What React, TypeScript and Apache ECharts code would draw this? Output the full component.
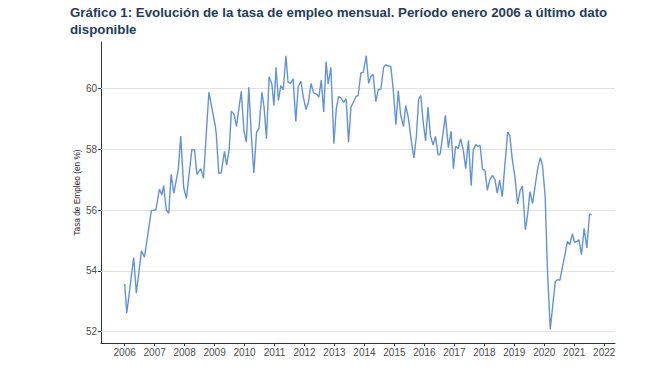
import React, { useEffect, useRef } from "react";
import * as echarts from "echarts";

const fechas: number[] = [
  2006.0, 2006.07, 2006.3, 2006.39, 2006.56, 2006.66, 2006.89, 2007.04, 2007.16, 2007.24,
  2007.3, 2007.39, 2007.47, 2007.55, 2007.64, 2007.79, 2007.87, 2007.97, 2008.06, 2008.24,
  2008.33, 2008.41, 2008.54, 2008.63, 2008.81, 2009.03, 2009.06, 2009.14, 2009.22, 2009.33,
  2009.4, 2009.49, 2009.56, 2009.65, 2009.73, 2009.89, 2009.98, 2010.06, 2010.14, 2010.23,
  2010.31, 2010.4, 2010.48, 2010.58, 2010.65, 2010.73, 2010.82, 2010.91, 2010.98, 2011.05,
  2011.13, 2011.21, 2011.29, 2011.38, 2011.45, 2011.53, 2011.62, 2011.71, 2011.79, 2011.88,
  2011.96, 2012.05, 2012.13, 2012.22, 2012.3, 2012.4, 2012.48, 2012.56, 2012.64, 2012.72,
  2012.79, 2012.88, 2012.98, 2013.06, 2013.14, 2013.22, 2013.31, 2013.39, 2013.47, 2013.55,
  2013.63, 2013.72, 2013.79, 2013.88, 2013.96, 2014.06, 2014.14, 2014.22, 2014.29, 2014.38,
  2014.46, 2014.55, 2014.64, 2014.71, 2014.8, 2014.88, 2014.96, 2015.05, 2015.13, 2015.21,
  2015.3, 2015.38, 2015.47, 2015.56, 2015.65, 2015.73, 2015.81, 2015.88, 2015.96, 2016.04,
  2016.12, 2016.2, 2016.29, 2016.37, 2016.46, 2016.53, 2016.7, 2016.8, 2016.89, 2016.97,
  2017.04, 2017.13, 2017.21, 2017.3, 2017.38, 2017.47, 2017.56, 2017.63, 2017.71, 2017.79,
  2017.86, 2017.94, 2018.02, 2018.1, 2018.18, 2018.27, 2018.36, 2018.43, 2018.51, 2018.6,
  2018.69, 2018.78, 2018.85, 2018.93, 2019.02, 2019.11, 2019.2, 2019.27, 2019.37, 2019.45,
  2019.52, 2019.61, 2019.69, 2019.78, 2019.87, 2019.94, 2020.03, 2020.11, 2020.2, 2020.28,
  2020.37, 2020.45, 2020.52, 2020.61, 2020.7, 2020.77, 2020.85, 2020.94, 2021.01, 2021.1,
  2021.16, 2021.24, 2021.33, 2021.42, 2021.51, 2021.58,
];

const tasaEmpleo: number[] = [
  53.57, 52.62, 54.44, 53.27, 54.66, 54.45, 55.98, 56.0, 56.69, 56.49,
  56.8, 56.0, 55.89, 57.17, 56.55, 57.34, 58.43, 56.73, 56.38, 57.98,
  57.98, 57.17, 57.36, 57.04, 59.87, 58.72, 58.45, 57.2, 57.22, 57.93,
  57.47, 58.02, 59.25, 59.14, 58.75, 59.9, 58.59, 58.23, 60.03, 58.4,
  57.22, 58.56, 58.67, 59.87, 59.38, 58.34, 60.38, 60.14, 59.43, 60.69,
  59.6, 60.09, 59.95, 61.07, 60.2, 60.16, 60.31, 58.91, 60.05, 60.23,
  59.71, 59.3, 59.54, 60.16, 59.85, 59.81, 59.71, 60.27, 59.22, 60.88,
  60.14, 60.69, 58.18, 59.32, 59.73, 59.68, 59.54, 59.65, 58.23, 59.38,
  59.54, 59.73, 59.76, 60.5, 60.52, 61.07, 60.16, 60.41, 60.45, 59.56,
  59.95, 59.98, 60.69, 60.77, 60.74, 60.71, 59.98, 58.8, 59.92, 59.11,
  58.75, 59.43, 59.0, 58.29, 57.71, 58.4, 59.65, 59.76, 58.89, 58.27,
  59.38, 58.46, 58.13, 58.42, 57.8, 57.85, 59.11, 58.05, 58.59, 57.36,
  58.09, 58.02, 58.34, 57.96, 57.36, 58.29, 56.8, 57.96, 58.15, 58.09,
  58.12, 57.33, 57.31, 56.65, 56.98, 57.14, 56.98, 56.55, 56.98, 56.44,
  57.53, 58.56, 58.45, 57.69, 57.09, 56.2, 56.65, 56.79, 55.35, 55.89,
  56.6, 56.22, 56.76, 57.36, 57.72, 57.47, 56.44, 53.93, 52.08, 52.84,
  53.66, 53.71, 53.69, 54.15, 54.58, 54.97, 54.86, 55.22, 54.94, 54.97,
  55.02, 54.53, 55.4, 54.75, 55.87, 55.84,
];

const anios: number[] = [
  2006, 2007, 2008, 2009, 2010, 2011, 2012, 2013, 2014, 2015, 2016, 2017, 2018, 2019, 2020, 2021, 2022,
];
const yTicks: number[] = [52, 54, 56, 58, 60];

const titulo =
  "Gráfico 1: Evolución de la tasa de empleo mensual. Período enero 2006 a último dato\ndisponible";
const yTitulo = "Tasa de Empleo (en %)";

export default function App() {
  const ref = useRef<HTMLDivElement>(null);
  useEffect(() => {
    if (!ref.current) return;
    const chart = echarts.init(ref.current, undefined, { renderer: "svg" });
    const data = fechas.map((f, i) => [f, tasaEmpleo[i]]);
    chart.setOption({
      animation: false,
      backgroundColor: "#ffffff",
      title: {
        text: titulo,
        left: 70,
        top: 4,
        padding: 0,
        textStyle: {
          fontFamily: "'Liberation Sans', Arial, sans-serif",
          fontWeight: "bold",
          fontSize: 13.3,
          lineHeight: 17,
          color: "#1f3d5c",
        },
      },
      grid: { left: 101, right: 55, top: 42, bottom: 27, containLabel: false },
      xAxis: {
        type: "value",
        min: 2005.21,
        max: 2022.36,
        axisLine: { show: true, lineStyle: { color: "#333333", width: 1 } },
        axisTick: { show: true, length: 3, customValues: anios, lineStyle: { color: "#333333" } },
        axisLabel: {
          customValues: anios,
          margin: 4,
          fontSize: 10,
          color: "#4d4d4d",
          fontFamily: "'Liberation Sans', Arial, sans-serif",
          formatter: (v: number) => String(Math.round(v)),
        },
        splitLine: { show: false },
      },
      yAxis: {
        type: "value",
        min: 51.63,
        max: 61.52,
        name: yTitulo,
        nameLocation: "middle",
        nameGap: 20,
        nameMoveOverlap: false,
        nameTextStyle: {
          fontSize: 8.3,
          color: "#222222",
          fontFamily: "'Liberation Sans', Arial, sans-serif",
        },
        axisLine: { show: true, lineStyle: { color: "#333333", width: 1 } },
        axisTick: { show: true, length: 3, customValues: yTicks, lineStyle: { color: "#333333" } },
        axisLabel: {
          customValues: yTicks,
          margin: 4,
          fontSize: 10,
          color: "#4d4d4d",
          fontFamily: "'Liberation Sans', Arial, sans-serif",
        },
        splitLine: { show: false },
      },
      series: [
        {
          type: "line",
          data,
          showSymbol: false,
          z: 3,
          lineStyle: { color: "#6293d9", width: 1.4 },
          itemStyle: { color: "#6293d9" },
          markLine: {
            z: 1,
            silent: true,
            symbol: "none",
            label: { show: false },
            lineStyle: { color: "#e2e2e2", type: "solid", width: 1 },
            data: yTicks.map((v) => ({ yAxis: v })),
          },
        },
      ],
    });
    return () => chart.dispose();
  }, []);
  return (
    <div
      ref={ref}
      style={{ position: "fixed", left: 0, top: 0, width: 670, height: 370, background: "#fff" }}
    />
  );
}
